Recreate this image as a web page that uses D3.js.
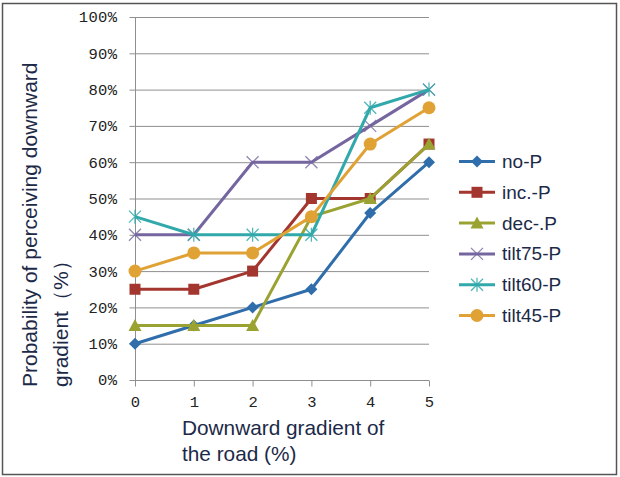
<!DOCTYPE html>
<html><head><meta charset="utf-8">
<script src="https://cdn.jsdelivr.net/npm/d3@7"></script>
<style>body{margin:0;background:#fff}svg{display:block}</style>
</head><body>
<svg id="c" width="620" height="477"></svg>
<script>
const xValues = [0, 1, 2, 3, 4, 5];
const seriesNames = ["no-P", "inc.-P", "dec-.P", "tilt75-P", "tilt60-P", "tilt45-P"];
const noP      = [10, 15, 20, 25, 46, 60];
const incP     = [25, 25, 30, 50, 50, 65];
const decP     = [15, 15, 15, 45, 50, 65];
const tilt75P  = [40, 40, 60, 60, 70, 80];
const tilt60P  = [45, 40, 40, 40, 75, 80];
const tilt45P  = [30, 35, 35, 45, 65, 75];
const yTicks = [0, 10, 20, 30, 40, 50, 60, 70, 80, 90, 100];
const colors = ["#2f6eaa", "#a3362f", "#9aa332", "#7566a0", "#31a9ab", "#e0a235"];
const markers = ["diamond", "square", "triangle", "x", "star", "circle"];
const yTitle = ["Probability of perceiving downward", "gradient\uFF08%\uFF09"];
const xTitle = ["Downward gradient of", "the road (%)"];

const series = [noP, incP, decP, tilt75P, tilt60P, tilt45P].map((v, i) => ({
  name: seriesNames[i], values: v, color: colors[i], marker: markers[i]
}));

const svg = d3.select("#c");
svg.append("rect").attr("x", 2.5).attr("y", 3.5).attr("width", 614).attr("height", 471)
  .attr("fill", "#fff").attr("stroke", "#555").attr("stroke-width", 1.5);

const x = d3.scaleLinear().domain([0, 5]).range([135, 429]);
const y = d3.scaleLinear().domain([0, 100]).range([380, 17]);

// gridlines
svg.append("g").selectAll("line").data(yTicks.filter(d => d > 0)).join("line")
  .attr("x1", x(0)).attr("x2", x(5)).attr("y1", d => y(d) + 0.5).attr("y2", d => y(d) + 0.5)
  .attr("stroke", "#8f8f8f").attr("stroke-width", 1);

// y axis
const yAxis = svg.append("g").attr("transform", `translate(${x(0) + 0.5},0)`)
  .call(d3.axisLeft(y).tickValues(yTicks).tickSize(6).tickPadding(12).tickFormat(d => d + "%"));
yAxis.select(".domain").attr("stroke", "#8f8f8f").attr("d", `M0,${y(100)}V${y(0)}`);
yAxis.selectAll(".tick line").attr("stroke", "#8f8f8f");
yAxis.selectAll(".tick text").attr("font-family", "Liberation Mono, monospace")
  .attr("font-size", 15.5).attr("fill", "#222").attr("letter-spacing", 0.4);

// x axis
const xAxis = svg.append("g").attr("transform", `translate(0,${y(0) + 0.5})`)
  .call(d3.axisBottom(x).tickValues(xValues).tickSize(6).tickPadding(9).tickFormat(d3.format("d")));
xAxis.select(".domain").attr("stroke", "#8f8f8f").attr("d", `M${x(0)},0H${x(5)}`);
xAxis.selectAll(".tick line").attr("stroke", "#8f8f8f");
xAxis.selectAll(".tick text").attr("font-family", "Liberation Mono, monospace")
  .attr("font-size", 15.5).attr("fill", "#222");

function drawMarker(g, type, color, cx, cy) {
  if (type === "diamond") {
    g.append("path").attr("d", `M${cx},${cy - 6}L${cx + 6},${cy}L${cx},${cy + 6}L${cx - 6},${cy}Z`).attr("fill", color);
  } else if (type === "square") {
    g.append("rect").attr("x", cx - 5.5).attr("y", cy - 5.5).attr("width", 11).attr("height", 11).attr("fill", color);
  } else if (type === "triangle") {
    g.append("path").attr("d", `M${cx},${cy - 6.5}L${cx + 6.5},${cy + 5.5}L${cx - 6.5},${cy + 5.5}Z`).attr("fill", color);
  } else if (type === "circle") {
    g.append("circle").attr("cx", cx).attr("cy", cy).attr("r", 6.5).attr("fill", color);
  } else if (type === "x") {
    g.append("path").attr("d", `M${cx - 6},${cy - 6}L${cx + 6},${cy + 6}M${cx - 6},${cy + 6}L${cx + 6},${cy - 6}`)
      .attr("stroke", color).attr("stroke-width", 1.3).attr("fill", "none").attr("opacity", 0.8);
  } else if (type === "star") {
    g.append("path").attr("d", `M${cx - 6},${cy - 6}L${cx + 6},${cy + 6}M${cx - 6},${cy + 6}L${cx + 6},${cy - 6}M${cx},${cy - 7}V${cy + 7}`)
      .attr("stroke", color).attr("stroke-width", 1.3).attr("fill", "none").attr("opacity", 0.85);
  }
}

const line = d3.line().x((d, i) => x(xValues[i])).y(d => y(d));
series.forEach(s => {
  const g = svg.append("g");
  g.append("path").attr("d", line(s.values)).attr("fill", "none")
    .attr("stroke", s.color).attr("stroke-width", 3).attr("stroke-linejoin", "round");
  s.values.forEach((v, i) => drawMarker(g, s.marker, s.color, x(xValues[i]), y(v)));
});

// legend
const lg = svg.append("g");
series.forEach((s, i) => {
  const cy = 161.5 + i * 30.8;
  lg.append("line").attr("x1", 459).attr("x2", 495).attr("y1", cy).attr("y2", cy)
    .attr("stroke", s.color).attr("stroke-width", 3);
  drawMarker(lg, s.marker, s.color, 477, cy);
  lg.append("text").attr("x", 502).attr("y", cy + 6.5).text(s.name)
    .attr("font-family", "Liberation Sans, Arial, sans-serif").attr("font-size", 19).attr("fill", "#1c2a48");
});

// axis titles
yTitle.forEach((t, i) => {
  svg.append("text").attr("transform", `translate(${37 + i * 31},387) rotate(-90)`)
    .attr("font-family", "Liberation Sans, Arial, sans-serif").attr("font-size", 21)
    .attr("fill", "#1c2a48").text(t);
});
xTitle.forEach((t, i) => {
  svg.append("text").attr("x", 182).attr("y", 435 + i * 26)
    .attr("font-family", "Liberation Sans, Arial, sans-serif").attr("font-size", 20.8)
    .attr("fill", "#1c2a48").text(t);
});
</script>
</body></html>
